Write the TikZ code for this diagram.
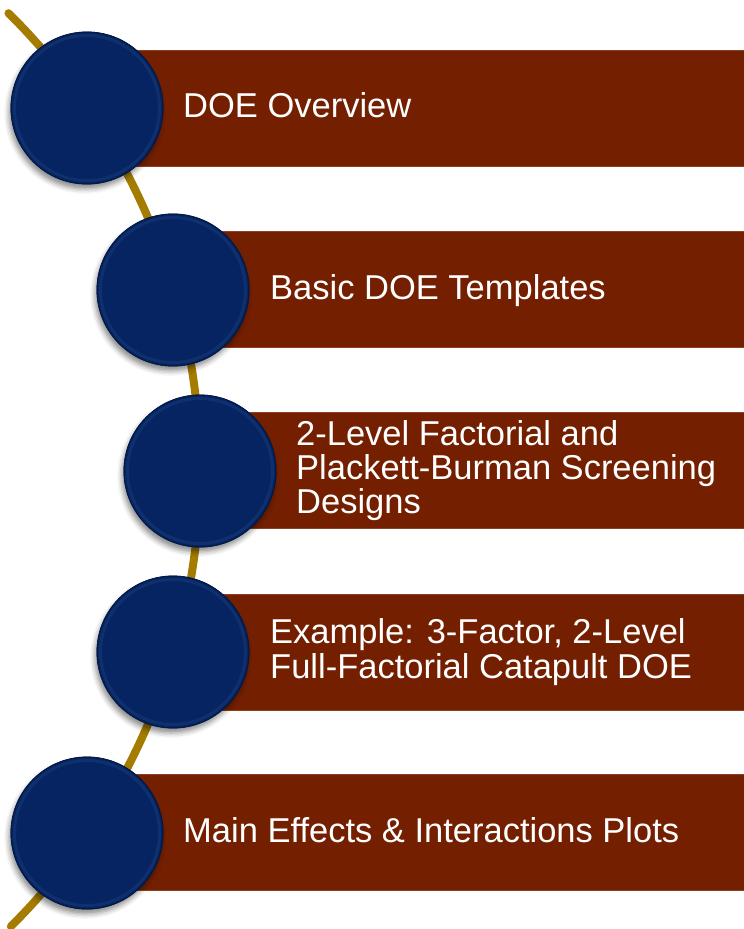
\documentclass[tikz,border=0pt]{standalone}
\usepackage{fontspec}
\setmainfont{Liberation Sans}
\usetikzlibrary{shadows.blur}
\definecolor{barred}{HTML}{731F00}
\definecolor{baredge}{HTML}{8E3E22}
\definecolor{navy}{HTML}{052461}
\definecolor{navyrim}{HTML}{173776}
\definecolor{navyedge}{HTML}{021845}
\definecolor{arcgold}{HTML}{A37C00}
\tikzset{
  bar/.style={fill=barred, draw=baredge, line width=0.8pt, anchor=west,
    inner sep=0pt, minimum height=116pt},
  % base anchor of a multi-line label sits on its last line
  bartext/.style={anchor=base west, inner sep=0pt, align=left, text=white,
    font=\fontsize{34.5}{34.25}\selectfont},
  disc/.style={circle, minimum size=152pt, inner sep=0pt, fill=navy,
    draw=navyedge, line width=0.8pt,
    blur shadow={shadow xshift=-2pt, shadow yshift=-5pt,
      shadow blur radius=5pt, shadow opacity=45}},
  rim/.style={draw=navyrim, line width=3pt, opacity=0.6},
  track/.style={draw=arcgold, line width=8pt, line cap=round}
}
\begin{document}
\begin{tikzpicture}[x=1pt,y=-1pt]
  \useasboundingbox (0,0) rectangle (744,929);
  % the curved track behind the discs: arc of radius 643 centred at (-443,471)
  \draw[track] plot[domain=45.4:-45.1, samples=120, smooth]
    ({-443+643*cos(\x)}, {471-643*sin(\x)});
  % bars
  \node[bar, minimum width=657pt] (b1) at (87,108) {};
  \node[bar, minimum width=571pt] (b2) at (173,289.5) {};
  \node[bar, minimum width=544pt] (b3) at (200,470.5) {};
  \node[bar, minimum width=571pt] (b4) at (173,652) {};
  \node[bar, minimum width=657pt] (b5) at (87,832.5) {};
  % discs with a bevelled rim
  \foreach \n/\x/\y in {1/87/108, 2/173/290, 3/200/471, 4/173/652, 5/87/833}{
    \node[disc] (c\n) at (\x,\y) {};
    \draw[rim] (c\n.center) circle[radius=72.5pt];
    \draw[navyedge, line width=0.8pt] (c\n.center) circle[radius=76pt];
  }
  % labels
  \node[bartext] (t1) at (183,117.5) {DOE Overview};
  \node[bartext] (t2) at (270,299) {Basic DOE Templates};
  \node[bartext] (t3) at (296,513.5) {2-Level Factorial and\\Plackett-Burman Screening\\Designs};
  \node[bartext] (t4) at (270,678) {Example: 3-Factor, 2-Level\\Full-Factorial Catapult DOE};
  \node[bartext] (t5) at (183,842) {Main Effects \& Interactions Plots};
\end{tikzpicture}
\end{document}
